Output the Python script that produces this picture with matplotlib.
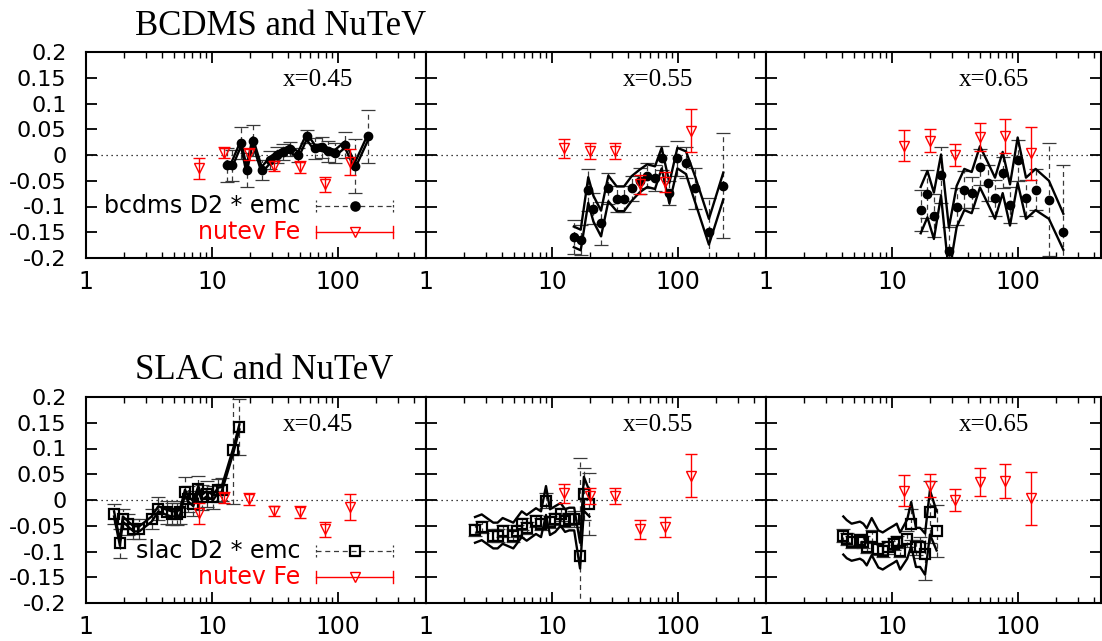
import matplotlib
matplotlib.use("Agg")
import matplotlib.pyplot as plt
from matplotlib.ticker import FixedLocator, NullLocator, FixedFormatter

# ---------------- data ----------------
# NuTeV Fe (same in both rows)
nutev_q_045 = [7.9, 12.5, 19.5, 31.0, 50.0, 79.0, 125.0]
nutev_r_045 = [-0.026, 0.0045, 0.002, -0.021, -0.023, -0.057, -0.013]
nutev_e_045 = [0.020, 0.011, 0.011, 0.010, 0.012, 0.014, 0.025]

nutev_q_055 = [12.5, 20.0, 31.6, 50.0, 79.0, 126.0]
nutev_r_055 = [0.013, 0.008, 0.008, -0.057, -0.052, 0.047]
nutev_e_055 = [0.019, 0.015, 0.015, 0.018, 0.019, 0.042]

nutev_q_065 = [12.5, 20.0, 31.6, 50.0, 79.0, 126.0]
nutev_r_065 = [0.018, 0.028, 0.000, 0.035, 0.037, 0.003]
nutev_e_065 = [0.030, 0.022, 0.021, 0.027, 0.033, 0.052]

# BCDMS D2 * emc
bcdms_q_045 = [13.1, 14.3, 17.0, 18.8, 21.0, 24.8, 28.9, 32.6, 36.8, 41.6, 48.4,
               56.4, 65.7, 74.2, 83.8, 94.7, 113.6, 136.0, 174.0]
bcdms_r_045 = [-0.019, -0.020, 0.023, -0.030, 0.028, -0.029, -0.010, 0.000, 0.006,
               0.012, 0.000, 0.036, 0.013, 0.015, 0.007, 0.004, 0.020, -0.021, 0.036]
bcdms_e_045 = [0.033, 0.030, 0.031, 0.033, 0.030, 0.020, 0.018, 0.016, 0.015, 0.014,
               0.014, 0.012, 0.020, 0.020, 0.020, 0.020, 0.025, 0.052, 0.052]
bcdms_b_045 = [0.006, 0.006, 0.006, 0.006, 0.006, 0.006, 0.006, 0.006, 0.006, 0.006,
               0.006, 0.006, 0.006, 0.006, 0.006, 0.006, 0.006, 0.006, 0.006]

bcdms_q_055 = [14.9, 16.9, 19.4, 21.3, 24.5, 28.0, 32.6, 37.3, 42.9, 49.9, 57.1,
               65.7, 74.2, 85.4, 98.9, 115.7, 136.0, 176.0, 229.0]
bcdms_r_055 = [-0.159, -0.165, -0.068, -0.104, -0.133, -0.065, -0.085, -0.085, -0.065,
               -0.050, -0.040, -0.044, -0.006, -0.074, -0.006, -0.015, -0.065, -0.149, -0.060]
bcdms_e_055 = [0.033, 0.030, 0.040, 0.030, 0.042, 0.030, 0.025, 0.025, 0.025, 0.025,
               0.025, 0.025, 0.024, 0.023, 0.034, 0.030, 0.040, 0.066, 0.102]
bcdms_b_055 = [0.020, 0.020, 0.025, 0.025, 0.025, 0.025, 0.024, 0.024, 0.024, 0.022,
               0.022, 0.022, 0.020, 0.020, 0.020, 0.022, 0.025, 0.025, 0.026]

bcdms_q_065 = [16.9, 19.1, 21.5, 24.5, 28.3, 32.6, 37.5, 42.9, 49.9, 57.5, 65.7,
               75.6, 86.4, 99.4, 115.7, 138.0, 176.0, 229.0]
bcdms_r_065 = [-0.107, -0.076, -0.118, -0.039, -0.186, -0.100, -0.067, -0.073, -0.023,
               -0.054, -0.084, -0.034, -0.097, -0.010, -0.084, -0.067, -0.087, -0.149]
bcdms_e_065 = [0.040, 0.046, 0.042, 0.055, 0.047, 0.035, 0.035, 0.030, 0.035, 0.035,
               0.035, 0.030, 0.035, 0.040, 0.035, 0.040, 0.110, 0.130]
bcdms_b_065 = [0.045, 0.045, 0.045, 0.040, 0.045, 0.040, 0.040, 0.040, 0.040, 0.040,
               0.040, 0.040, 0.040, 0.044, 0.040, 0.040, 0.037, 0.035]

# SLAC D2 * emc
slac_q_045 = [1.67, 1.86, 1.96, 2.17, 2.38, 2.65, 3.32, 3.75, 4.37, 4.78, 5.25, 5.57,
              6.1, 6.49, 7.1, 7.79, 8.28, 9.07, 10.2, 11.2, 11.9, 14.8, 16.5]
slac_r_045 = [-0.027, -0.084, -0.037, -0.047, -0.056, -0.056, -0.037, -0.017, -0.024,
              -0.027, -0.027, -0.024, 0.015, 0.002, -0.007, 0.022, 0.005, 0.012, 0.005,
              0.019, 0.020, 0.097, 0.142]
slac_e_045 = [0.020, 0.028, 0.020, 0.020, 0.020, 0.020, 0.020, 0.022, 0.022, 0.022,
              0.022, 0.022, 0.030, 0.025, 0.025, 0.025, 0.025, 0.025, 0.022, 0.022,
              0.022, 0.105, 0.055]
slac_b_045 = [0.005, 0.005, 0.005, 0.005, 0.005, 0.005, 0.005, 0.005, 0.005, 0.005,
              0.005, 0.005, 0.005, 0.005, 0.005, 0.005, 0.005, 0.005, 0.005, 0.005,
              0.005, 0.005, 0.005]

slac_q_055 = [2.45, 2.77, 3.42, 3.7, 4.06, 4.93, 5.25, 5.75, 6.3, 7.46, 8.18, 8.96,
              9.64, 10.6, 11.7, 12.7, 13.7, 15.0, 16.7, 17.9, 19.8]
slac_r_055 = [-0.058, -0.053, -0.069, -0.069, -0.060, -0.069, -0.060, -0.047, -0.054,
              -0.041, -0.047, -0.001, -0.043, -0.037, -0.028, -0.040, -0.037, -0.037,
              -0.108, 0.012, -0.007]
slac_e_055 = [0.012, 0.012, 0.012, 0.012, 0.012, 0.012, 0.012, 0.012, 0.012, 0.012,
              0.012, 0.015, 0.012, 0.012, 0.012, 0.012, 0.012, 0.015, 0.190, 0.050, 0.060]
slac_b_055 = [0.025, 0.025, 0.025, 0.025, 0.025, 0.025, 0.025, 0.025, 0.025, 0.025,
              0.025, 0.028, 0.025, 0.025, 0.022, 0.022, 0.022, 0.022, 0.025, 0.033, 0.025]

slac_q_065 = [4.11, 4.37, 4.78, 5.57, 5.92, 6.3, 6.9, 7.79, 8.44, 9.36, 10.3, 10.9,
              11.6, 13.2, 14.2, 15.5, 16.7, 18.3, 20.0, 22.6]
slac_r_065 = [-0.069, -0.076, -0.082, -0.078, -0.082, -0.091, -0.071, -0.095, -0.099,
              -0.092, -0.086, -0.082, -0.099, -0.076, -0.047, -0.092, -0.092, -0.105,
              -0.024, -0.060]
slac_e_065 = [0.012, 0.012, 0.012, 0.012, 0.012, 0.012, 0.012, 0.012, 0.012, 0.012,
              0.012, 0.012, 0.012, 0.015, 0.030, 0.015, 0.020, 0.050, 0.060, 0.050]
slac_b_065 = [0.037, 0.037, 0.036, 0.036, 0.036, 0.036, 0.036, 0.036, 0.036, 0.036,
              0.036, 0.036, 0.036, 0.038, 0.043, 0.038, 0.038, 0.040, 0.043, 0.038]

x_labels = ["x=0.45", "x=0.55", "x=0.65"]
row_titles = ["BCDMS and NuTeV", "SLAC and NuTeV"]
legend_labels = [["bcdms D2 * emc", "nutev Fe"], ["slac D2 * emc", "nutev Fe"]]
ytick_vals = [-0.2, -0.15, -0.1, -0.05, 0.0, 0.05, 0.1, 0.15, 0.2]
ytick_labels = ["-0.2", "-0.15", "-0.1", "-0.05", "0", "0.05", "0.1", "0.15", "0.2"]
xtick_vals = [1, 10, 100]
xtick_labels = ["1", "10", "100"]
xminor_vals = [2, 3, 4, 5, 6, 7, 8, 9, 20, 30, 40, 50, 60, 70, 80, 90,
               200, 300, 400]

rows = [
    [(bcdms_q_045, bcdms_r_045, bcdms_e_045, bcdms_b_045, nutev_q_045, nutev_r_045, nutev_e_045),
     (bcdms_q_055, bcdms_r_055, bcdms_e_055, bcdms_b_055, nutev_q_055, nutev_r_055, nutev_e_055),
     (bcdms_q_065, bcdms_r_065, bcdms_e_065, bcdms_b_065, nutev_q_065, nutev_r_065, nutev_e_065)],
    [(slac_q_045, slac_r_045, slac_e_045, slac_b_045, nutev_q_045, nutev_r_045, nutev_e_045),
     (slac_q_055, slac_r_055, slac_e_055, slac_b_055, nutev_q_055, nutev_r_055, nutev_e_055),
     (slac_q_065, slac_r_065, slac_e_065, slac_b_065, nutev_q_065, nutev_r_065, nutev_e_065)],
]

# ---------------- layout ----------------
W, H = 1102, 641
fig = plt.figure(figsize=(W / 100, H / 100), dpi=100)
col_left = [86, 426, 766]
col_width = [340, 340, 335]
row_top = [52, 397]
row_h = 206
decade_px = 126.0

SANS = "DejaVu Sans"
SERIF = "Liberation Serif"
ERRC = "#3a3a3a"
CIRC_MS, SQ_MS, TRI_MS = 6.0, 7.0, 7.0

for ri, row in enumerate(rows):
    for ci, (q, r, e, b, nq, nr, ne) in enumerate(row):
        left = col_left[ci] / W
        bottom = 1 - (row_top[ri] + row_h) / H
        ax = fig.add_axes([left, bottom, col_width[ci] / W, row_h / H])
        ax.set_xscale("log")
        ax.set_xlim(1, 10 ** (col_width[ci] / decade_px))
        ax.set_ylim(-0.2, 0.2)

        ax.axhline(0, color="black", ls=(0, (1, 3)), lw=0.9, zorder=1)

        # data error bars (dashed)
        eb = ax.errorbar(q, r, yerr=e, fmt="none", ecolor=ERRC, elinewidth=0.9,
                         capsize=5, capthick=0.9, zorder=2)
        for lc in eb[2]:
            lc.set_linestyle((0, (4, 3)))

        # band lines
        upper = [v + h for v, h in zip(r, b)]
        lower = [v - h for v, h in zip(r, b)]
        ax.plot(q, upper, color="black", lw=1.7, zorder=3)
        ax.plot(q, lower, color="black", lw=1.7, zorder=3)

        if ri == 0:
            ax.plot(q, r, ls="none", marker="o", ms=CIRC_MS, mfc="black", mec="black",
                    zorder=4)
        else:
            ax.plot(q, r, ls="none", marker="s", ms=SQ_MS, mfc="none", mec="black",
                    mew=1.6, zorder=4)

        # NuTeV
        ax.errorbar(nq, nr, yerr=ne, fmt="v", color="red", mfc="none", mec="red",
                    ms=TRI_MS, mew=1.0, capsize=4.5, elinewidth=1.0, capthick=1.0,
                    zorder=5)

        # ticks
        ax.xaxis.set_major_locator(FixedLocator(xtick_vals))
        ax.xaxis.set_major_formatter(FixedFormatter(xtick_labels))
        ax.xaxis.set_minor_locator(FixedLocator(xminor_vals))
        ax.xaxis.set_minor_formatter(FixedFormatter([""] * len(xminor_vals)))
        ax.yaxis.set_major_locator(FixedLocator(ytick_vals))
        ax.yaxis.set_major_formatter(FixedFormatter(ytick_labels))
        ax.yaxis.set_minor_locator(NullLocator())
        ax.tick_params(axis="both", which="major", direction="in", length=8,
                       width=1.3, top=True, right=True)
        ax.tick_params(axis="both", which="minor", direction="in", length=4.5,
                       width=1.0, top=True, right=True)
        ax.tick_params(axis="x", which="major", pad=9, labelsize=17)
        ax.tick_params(axis="y", which="major", pad=14, labelsize=16)
        for lab in ax.get_xticklabels() + ax.get_yticklabels():
            lab.set_fontfamily(SANS)
        if ci > 0:
            ax.tick_params(axis="y", labelleft=False)
        for sp in ax.spines.values():
            sp.set_linewidth(1.5)

        ax.text(0.681, 0.862, x_labels[ci], transform=ax.transAxes, ha="center",
                va="center", fontsize=18, family=SERIF)

        if ci == 0:
            # hand-drawn legend in gnuplot style
            leg_y = [0.252, 0.126]
            x0, x1, xm = 0.676, 0.903, 0.791
            mk = "o" if ri == 0 else "s"
            for k, (lab, col) in enumerate(zip(legend_labels[ri], ["black", "red"])):
                y = leg_y[k]
                ax.text(0.63, y, lab, transform=ax.transAxes, ha="right",
                        va="center", fontsize=17, family=SANS, color=col)
                if k == 0:
                    ax.plot([x0, x1], [y, y], transform=ax.transAxes, color=ERRC,
                            lw=0.9, ls=(0, (4, 3)), clip_on=False)
                    for xx in (x0, x1):
                        ax.plot([xx, xx], [y - 0.03, y + 0.03], transform=ax.transAxes,
                                color=ERRC, lw=0.9, ls=(0, (2, 2)), clip_on=False)
                    ax.plot([xm], [y], transform=ax.transAxes, ls="none", marker=mk,
                            ms=CIRC_MS if ri == 0 else SQ_MS,
                            mfc="black" if ri == 0 else "none", mec="black",
                            mew=1.6, clip_on=False)
                else:
                    ax.plot([x0, x1], [y, y], transform=ax.transAxes, color="red",
                            lw=1.0, clip_on=False)
                    for xx in (x0, x1):
                        ax.plot([xx, xx], [y - 0.03, y + 0.03], transform=ax.transAxes,
                                color="red", lw=1.0, clip_on=False)
                    ax.plot([xm], [y], transform=ax.transAxes, ls="none", marker="v",
                            ms=TRI_MS, mfc="none", mec="red", mew=1.0, clip_on=False)

# row titles
fig.text(135 / W, 1 - 35 / H, row_titles[0], ha="left", va="baseline",
         fontsize=25, family=SERIF)
fig.text(135 / W, 1 - 379 / H, row_titles[1], ha="left", va="baseline",
         fontsize=25, family=SERIF)

fig.savefig("out.png", dpi=100)
